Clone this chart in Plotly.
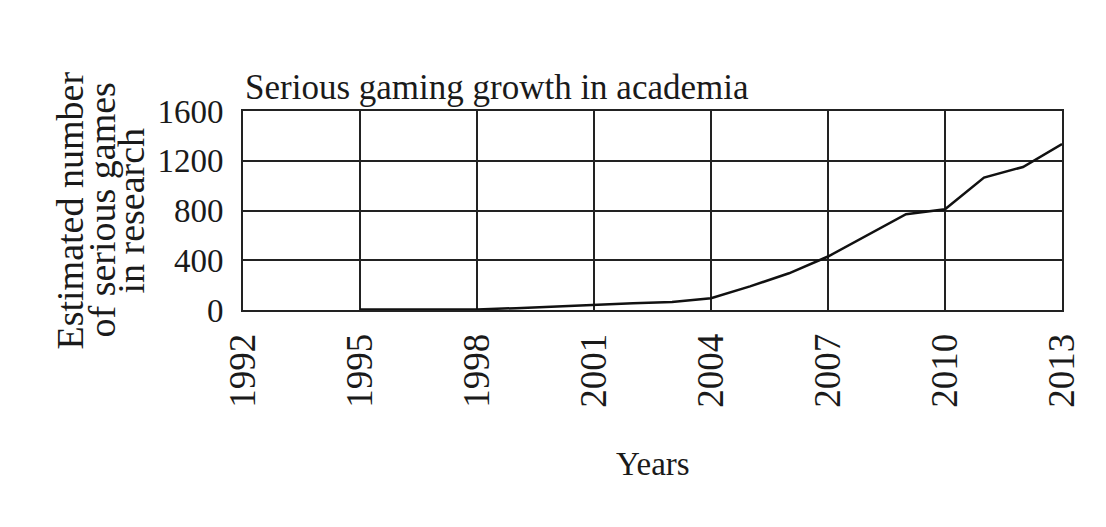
import plotly.graph_objects as go

years = [1995, 1996, 1997, 1998, 1999, 2000, 2001, 2002, 2003, 2004,
         2005, 2006, 2007, 2008, 2009, 2010, 2011, 2012, 2013]
games = [5, 5, 5, 5, 15, 30, 45, 55, 65, 95,
         190, 295, 430, 600, 770, 810, 1065, 1150, 1335]
x_ticks = [1992, 1995, 1998, 2001, 2004, 2007, 2010, 2013]
y_ticks = [0, 400, 800, 1200, 1600]
y_title_lines = ["Estimated number", "of serious games", "in research"]

FONT = "Liberation Serif"
W, H = 1090, 511
L, R, T, B = 235, 36, 103, 209
PW, PH = W - L - R, H - T - B

fig = go.Figure()
fig.add_trace(go.Scatter(x=years, y=games, mode="lines",
                         line=dict(color="#111111", width=2.5),
                         showlegend=False))

annotations = []
for i, line in enumerate(y_title_lines):
    cx = [61, 93, 122][i]
    annotations.append(dict(text=line, xref="paper", yref="paper",
                            x=(cx - L) / PW, y=0.5,
                            xanchor="center", yanchor="middle",
                            textangle=-90, showarrow=False,
                            font=dict(family=FONT, size=38, color="#1a1a1a")))
annotations.append(dict(text="Years", xref="paper", yref="paper",
                        x=0.5, y=(T + PH - 456) / PH,
                        xanchor="center", yanchor="middle", showarrow=False,
                        font=dict(family=FONT, size=33, color="#1a1a1a")))

fig.update_layout(
    width=W, height=H,
    paper_bgcolor="white", plot_bgcolor="white",
    margin=dict(l=L, r=R, t=T, b=B),
    font=dict(family=FONT, color="#1a1a1a", size=30),
    title=dict(text="Serious gaming growth in academia",
               x=237 / W, xanchor="left", xref="container",
               y=1 - 79 / H, yanchor="middle",
               font=dict(family=FONT, size=35, color="#1a1a1a")),
    xaxis=dict(range=[1992, 2013], tickvals=x_ticks,
               ticktext=[str(v) for v in x_ticks],
               tickangle=-90, ticks="", ticklabelstandoff=7,
               showgrid=True, gridcolor="#222222", gridwidth=2,
               showline=True, linecolor="#222222", linewidth=2, mirror=True,
               zeroline=False,
               tickfont=dict(family=FONT, size=37)),
    yaxis=dict(range=[0, 1600], tickvals=y_ticks,
               ticktext=[str(v) for v in y_ticks],
               ticks="", ticklabelstandoff=11,
               showgrid=True, gridcolor="#222222", gridwidth=2,
               showline=True, linecolor="#222222", linewidth=2, mirror=True,
               zeroline=False,
               tickfont=dict(family=FONT, size=33)),
    annotations=annotations,
)

fig.write_html("out.html")
